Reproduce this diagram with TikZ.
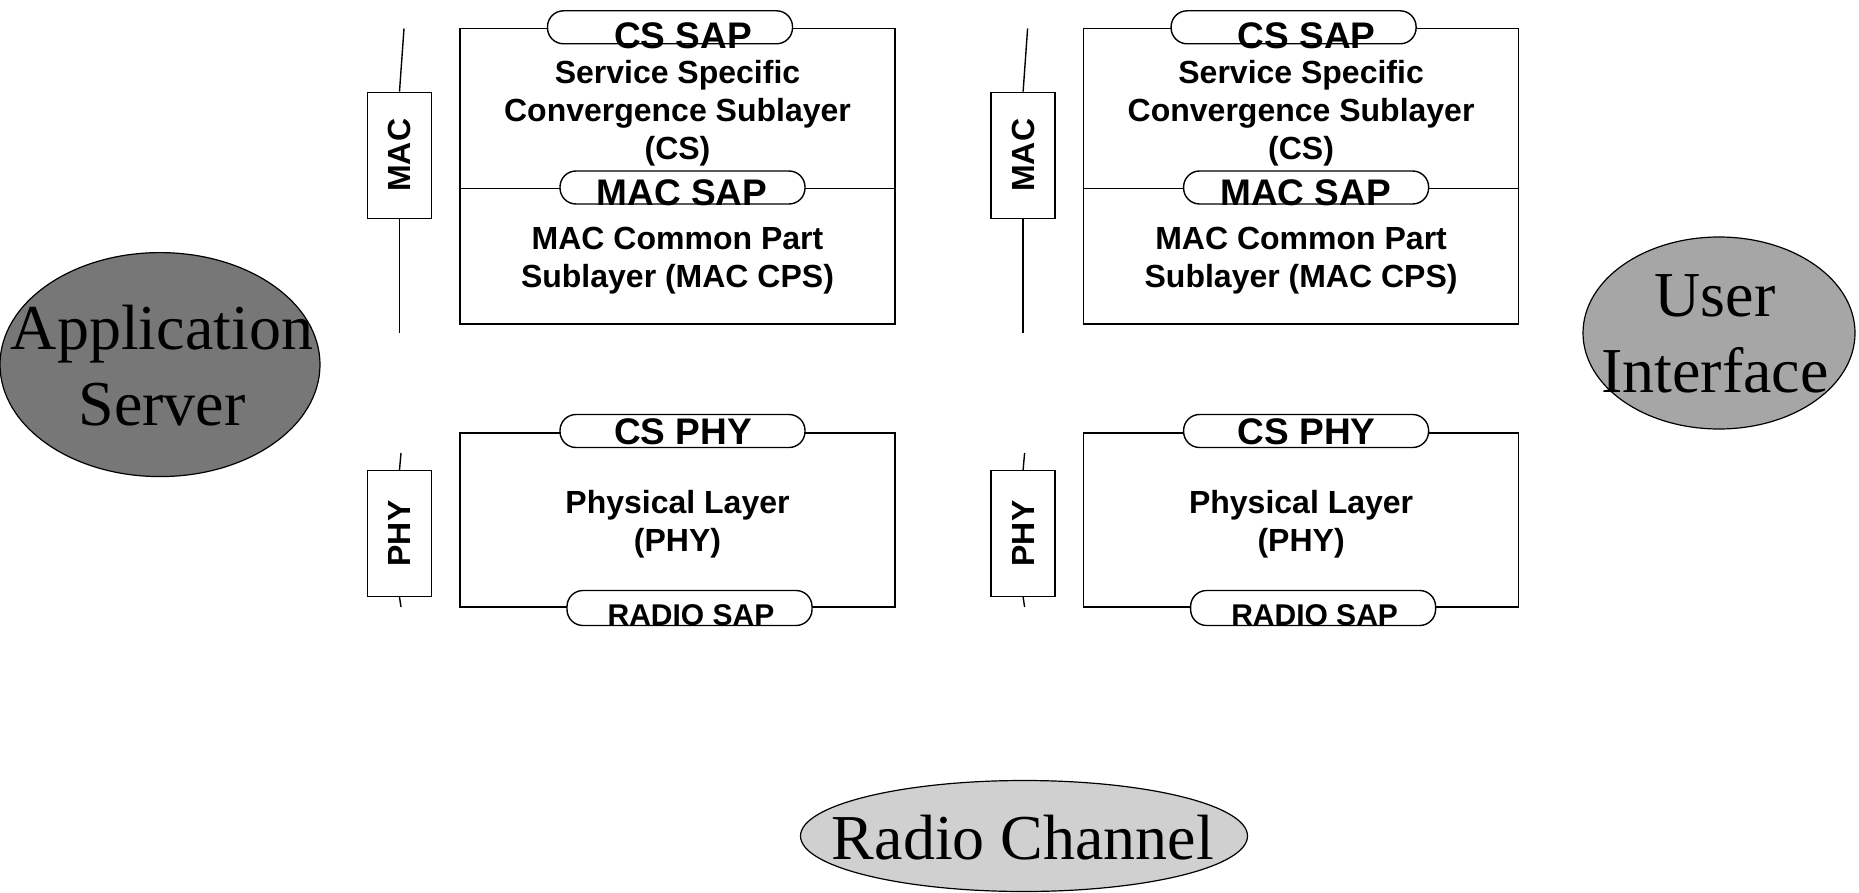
\documentclass[tikz,border=0pt]{standalone}
\usepackage{fontspec}
\setmainfont{Liberation Serif}
\setsansfont{Liberation Sans}
\usetikzlibrary{shapes.geometric}
\definecolor{appgray}{HTML}{777777}
\definecolor{uigray}{HTML}{A6A6A6}
\definecolor{radiogray}{HTML}{D0D0D0}
\begin{document}
\begin{tikzpicture}[x=1pt,y=-1pt,
  layerbox/.style={draw, line width=1.6pt, inner sep=0pt, minimum width=435pt},
  layertext/.style={font=\sffamily\bfseries\fontsize{32}{38}\selectfont, align=center, inner sep=0pt},
  pill/.style={draw, fill=white, rounded corners=16pt, line width=1.4pt,
    minimum width=245pt, minimum height=33pt, inner sep=0pt},
  saplabel/.style={font=\sffamily\bfseries\fontsize{37}{40}\selectfont, inner sep=0pt},
  radiolabel/.style={font=\sffamily\bfseries\fontsize{30}{34}\selectfont, inner sep=0pt},
  tagbox/.style={draw, fill=white, rotate=90, minimum width=126pt, minimum height=64pt,
    line width=1.4pt, inner sep=0pt, font=\sffamily\bfseries\fontsize{32}{36}\selectfont},
  wire/.style={line width=1.4pt},
  blob/.style={ellipse, draw, line width=1.2pt, inner sep=0pt},
  blobtext/.style={font=\fontsize{64}{76}\selectfont, align=center, inner sep=0pt}
]
\useasboundingbox (0,0) rectangle (1859,893);

% ---------- left stack ----------
\node[layerbox, minimum height=160pt] (cs1) at (677.5,108.5) {};
\node[layerbox, minimum height=135.2pt] (cps1) at (677.5,256.1) {};
\node[layerbox, minimum height=174pt] (phy1) at (677.5,520) {};
\node[layertext] (cs1T) at ([yshift=-5pt]cs1.center) {Service Specific\\Convergence Sublayer\\(CS)};
\node[layertext] (cps1T) at ([yshift=-5pt]cps1.center) {MAC Common Part\\Sublayer (MAC CPS)};
\node[layertext] (phy1T) at ([yshift=-4pt]phy1.center) {Physical Layer\\(PHY)};

\node[pill] (cssap1) at (670,27.3) {};
\node[pill] (macsap1) at (682.5,187.5) {};
\node[pill] (csphy1) at (682.5,431) {};
\node[pill, minimum height=35pt] (radiosap1) at (689.5,608) {};

\node[saplabel] (cssapL1) at (683,35.5) {CS SAP};
\node[saplabel] (macsapL1) at (682,192.5) {MAC SAP};
\node[saplabel] (csphyL1) at (683,431.5) {CS PHY};
\node[radiolabel] (radiosapL1) at (691,615.5) {RADIO SAP};

\node[tagbox] (mac1) at (399.5,155.3) {MAC};
\node[tagbox] (phytag1) at (399.5,533.5) {PHY};
\coordinate (mac1t) at (404,28.5);
\coordinate (mac1b) at (399.5,333);
\coordinate (phy1t) at (401,453);
\coordinate (phy1b) at (401,607);
\draw[wire] (mac1t) -- (mac1.east);
\draw[wire] (mac1.west) -- (mac1b);
\draw[wire] (phy1t) -- (phytag1.east);
\draw[wire] (phytag1.west) -- (phy1b);

% ---------- right stack ----------
\begin{scope}[xshift=623.6pt]
\node[layerbox, minimum height=160pt] (cs2) at (677.5,108.5) {};
\node[layerbox, minimum height=135.2pt] (cps2) at (677.5,256.1) {};
\node[layerbox, minimum height=174pt] (phy2) at (677.5,520) {};
\node[layertext] (cs2T) at ([yshift=-5pt]cs2.center) {Service Specific\\Convergence Sublayer\\(CS)};
\node[layertext] (cps2T) at ([yshift=-5pt]cps2.center) {MAC Common Part\\Sublayer (MAC CPS)};
\node[layertext] (phy2T) at ([yshift=-4pt]phy2.center) {Physical Layer\\(PHY)};

\node[pill] (cssap2) at (670,27.3) {};
\node[pill] (macsap2) at (682.5,187.5) {};
\node[pill] (csphy2) at (682.5,431) {};
\node[pill, minimum height=35pt] (radiosap2) at (689.5,608) {};

\node[saplabel] (cssapL2) at (683,35.5) {CS SAP};
\node[saplabel] (macsapL2) at (682,192.5) {MAC SAP};
\node[saplabel] (csphyL2) at (683,431.5) {CS PHY};
\node[radiolabel] (radiosapL2) at (691,615.5) {RADIO SAP};

\node[tagbox] (mac2) at (399.5,155.3) {MAC};
\node[tagbox] (phytag2) at (399.5,533.5) {PHY};
\coordinate (mac2t) at (404,28.5);
\coordinate (mac2b) at (399.5,333);
\coordinate (phy2t) at (401,453);
\coordinate (phy2b) at (401,607);
\draw[wire] (mac2t) -- (mac2.east);
\draw[wire] (mac2.west) -- (mac2b);
\draw[wire] (phy2t) -- (phytag2.east);
\draw[wire] (phytag2.west) -- (phy2b);
\end{scope}

% ---------- ellipses ----------
\node[blob, fill=appgray, minimum width=320pt, minimum height=224pt] (app) at (160,364.6) {};
\node[blobtext] (appT) at (162,366) {Application\\Server};
\node[blob, fill=uigray, minimum width=272pt, minimum height=192pt] (ui) at (1719,333) {};
\node[blobtext] (uiT) at (1715,334) {User\\Interface};
\node[blob, fill=radiogray, minimum width=447pt, minimum height=111pt] (radio) at (1024,836) {};
\node[blobtext] (radioT) at (1023,838) {Radio Channel};
\end{tikzpicture}
\end{document}
